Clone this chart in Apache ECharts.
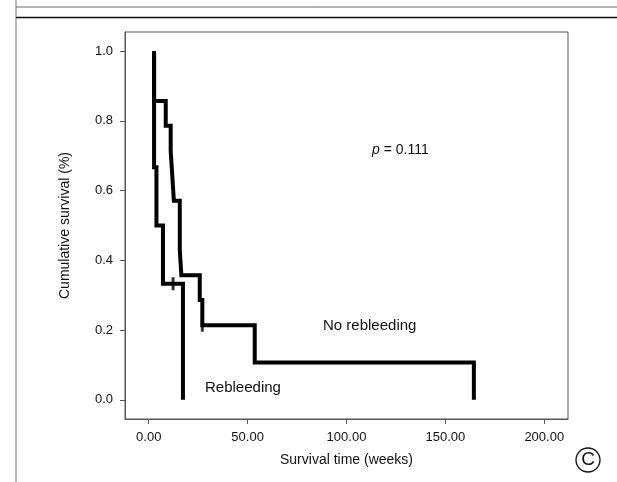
<!DOCTYPE html>
<html>
<head>
<meta charset="utf-8">
<script src="https://cdn.jsdelivr.net/npm/echarts@6/dist/echarts.min.js"></script>
<style>html,body{margin:0;padding:0;background:#fff;}#c{width:617px;height:482px;}</style>
</head>
<body>
<div id="c"></div>
<script>
// Kaplan-Meier step data (time in weeks, cumulative survival)
var rebleedTimes = [2.7, 2.7, 3.9, 7.2, 17.3];
var rebleedSurv  = [1.0, 0.667, 0.5, 0.333, 0.0];
var noRebleedTimes = [2.7, 2.7, 8.6, 11.1, 11.9, 12.7, 15.7, 16.5, 25.8, 27.1, 53.6, 164.4];
var noRebleedSurv  = [1.0, 0.857, 0.786, 0.714, 0.643, 0.571, 0.429, 0.357, 0.286, 0.214, 0.107, 0.0];
var rebleedCensorT = [12.3];
var rebleedCensorS = [0.333];
var noRebleedCensorT = [27.1];
var noRebleedCensorS = [0.214];
var xTicks = [0, 50, 100, 150, 200];
var yTicks = [0, 0.2, 0.4, 0.6, 0.8, 1.0];
var pText = '0.111';

function zip(a, b) { return a.map(function (v, i) { return [v, b[i]]; }); }

var FONT = '"Liberation Sans", Arial, sans-serif';
var chart = echarts.init(document.getElementById('c'), null, {renderer: 'canvas'});
chart.setOption({
  animation: false,
  backgroundColor: '#fff',
  grid: {left: 125, top: 32, right: 49, bottom: 63, show: true, borderColor: '#555', borderWidth: 1, backgroundColor: 'transparent'},
  xAxis: {
    type: 'value', min: -12, max: 212,
    name: 'Survival time (weeks)', nameLocation: 'middle', nameGap: 34,
    nameTextStyle: {fontFamily: FONT, fontSize: 14, color: '#111'},
    axisLine: {show: true, onZero: false, lineStyle: {color: '#555', width: 1}},
    axisTick: {show: true, length: 5, customValues: xTicks, lineStyle: {color: '#555'}},
    axisLabel: {customValues: xTicks, margin: 12, fontFamily: FONT, fontSize: 13, color: '#111',
      formatter: function (v) { return v.toFixed(2); }},
    splitLine: {show: false}
  },
  yAxis: {
    type: 'value', min: -0.055, max: 1.055,
    name: 'Cumulative survival (%)', nameLocation: 'middle', nameGap: 53,
    nameTextStyle: {fontFamily: FONT, fontSize: 14, color: '#111'},
    axisLine: {show: true, onZero: false, lineStyle: {color: '#555', width: 1}},
    axisTick: {show: true, length: 5, customValues: yTicks, lineStyle: {color: '#555'}},
    axisLabel: {customValues: yTicks, margin: 12, fontFamily: FONT, fontSize: 13, color: '#111',
      formatter: function (v) { return v.toFixed(1); }},
    splitLine: {show: false}
  },
  series: [
    {type: 'line', name: 'Rebleeding', step: 'end', data: zip(rebleedTimes, rebleedSurv),
      showSymbol: false, lineStyle: {color: '#000', width: 4, join: 'miter', cap: 'butt'}, z: 3},
    {type: 'line', name: 'No rebleeding', step: 'end', data: zip(noRebleedTimes, noRebleedSurv),
      showSymbol: false, lineStyle: {color: '#000', width: 4, join: 'miter', cap: 'butt'}, z: 3},
    {type: 'scatter', data: zip(rebleedCensorT, rebleedCensorS).concat(zip(noRebleedCensorT, noRebleedCensorS)),
      symbol: 'rect', symbolSize: [3, 13], itemStyle: {color: '#000'}, z: 4}
  ],
  graphic: [
    {type: 'line', shape: {x1: 16, y1: 0, x2: 16, y2: 482}, style: {stroke: '#777', lineWidth: 1}},
    {type: 'line', shape: {x1: 16, y1: 7, x2: 617, y2: 7}, style: {stroke: '#666', lineWidth: 1}},
    {type: 'line', shape: {x1: 16, y1: 17.5, x2: 617, y2: 17.5}, style: {stroke: '#111', lineWidth: 1.5}},
    {type: 'text', left: 372, top: 143, style: {
      text: '{i|p} = ' + pText, rich: {i: {fontStyle: 'italic', fontFamily: FONT, fontSize: 14, fill: '#111'}},
      font: '14px ' + FONT, fill: '#111'}},
    {type: 'text', left: 323, top: 318, style: {text: 'No rebleeding', font: '15px ' + FONT, fill: '#111'}},
    {type: 'text', left: 205, top: 380, style: {text: 'Rebleeding', font: '15px ' + FONT, fill: '#111'}},
    {type: 'circle', shape: {cx: 588, cy: 460, r: 12}, style: {fill: 'none', stroke: '#111', lineWidth: 1.3}},
    {type: 'text', x: 588, y: 460, style: {text: 'C', font: '19px ' + FONT, fill: '#111', align: 'center', verticalAlign: 'middle'}}
  ]
});
</script>
</body>
</html>
